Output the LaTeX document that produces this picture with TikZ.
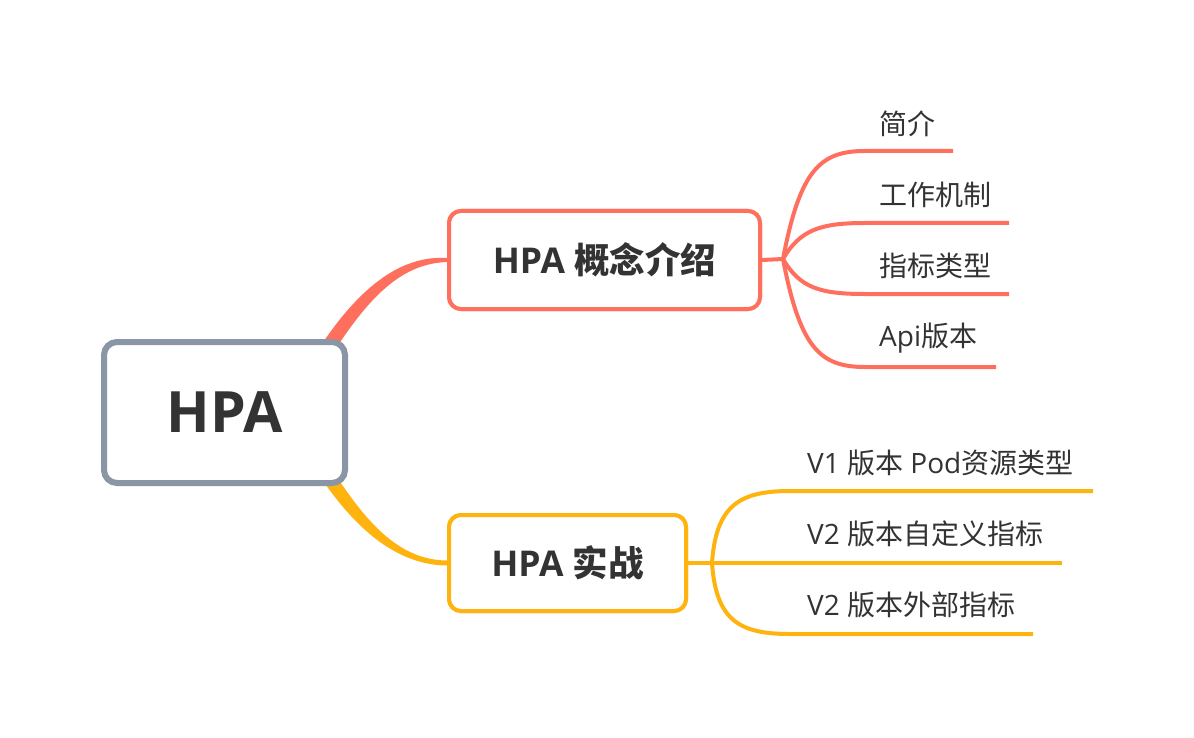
\documentclass[tikz,border=0pt]{standalone}
\usepackage{fontspec}
\setmainfont{Open Sans}
\newfontfamily\cjk{Noto Sans CJK SC}
\newcommand\zh[1]{{\cjk #1}}
\definecolor{coral}{RGB}{255,111,94}
\definecolor{amber}{RGB}{254,179,15}
\definecolor{slate}{RGB}{138,149,165}
\definecolor{ink}{RGB}{51,51,51}
\tikzset{
  rootbox/.style={draw=slate,line width=6pt,rounded corners=13pt,fill=white,minimum width=241pt,minimum height=141pt,text=ink,font=\fontsize{57}{60}\selectfont\bfseries,inner sep=0pt},
  branchbox/.style={line width=4pt,rounded corners=12pt,fill=white,text=ink,font=\fontsize{35.5}{40}\selectfont\bfseries,inner sep=0pt},
  leaftext/.style={anchor=west,text=ink,font=\fontsize{28}{32}\selectfont,inner sep=0pt},
  redline/.style={draw=coral,line width=4pt},
  yelline/.style={draw=amber,line width=4pt},
}
\begin{document}
\begin{tikzpicture}[x=1pt,y=-1pt]
\useasboundingbox (0,0) rectangle (1194,738);
\fill[white] (0,0) rectangle (1194,738);
% branch boxes (positions needed for connectors)
\node[branchbox,draw=coral,minimum width=311pt,minimum height=98pt] (b1) at (604.5,260) {HPA \zh{概念介绍}};
\node[branchbox,draw=amber,minimum width=237pt,minimum height=96pt] (b2) at (567.5,563) {HPA \zh{实战}};
% tapered main connectors
\fill[coral] (283,412) .. controls (332,314) and (385,254) .. ([yshift=2pt]b1.west) -- ([yshift=-2pt]b1.west) .. controls (385,264) and (348,326) .. (297,412) -- cycle;
\fill[amber] (283,412) .. controls (332,510) and (385,565) .. ([yshift=-2.5pt]b2.west) -- ([yshift=2.5pt]b2.west) .. controls (385,560) and (348,498) .. (297,412) -- cycle;
\node[rootbox] (root) at (224.5,412.5) {HPA};
% redraw branch boxes on top
\node[branchbox,draw=coral,minimum width=311pt,minimum height=98pt] at (b1) {HPA \zh{概念介绍}};
\node[branchbox,draw=amber,minimum width=237pt,minimum height=96pt] at (b2) {HPA \zh{实战}};
% top branch children
\coordinate (j1) at (783,259);
\coordinate (e1) at (953,151);
\coordinate (e2) at (1009,223);
\coordinate (e3) at (1009,294);
\coordinate (e4) at (996,367);
\draw[redline] (b1.east) -- (j1);
\draw[redline] (j1) .. controls (800,170) and (820,151) .. (865,151) -- (e1);
\draw[redline] (j1) .. controls (800,230) and (820,223) .. (865,223) -- (e2);
\draw[redline] (j1) .. controls (800,288) and (820,294) .. (865,294) -- (e3);
\draw[redline] (j1) .. controls (800,348) and (820,367) .. (865,367) -- (e4);
\node[leaftext] (t1) at (879,124) {\zh{简介}};
\node[leaftext] (t2) at (879,195) {\zh{工作机制}};
\node[leaftext] (t3) at (879,266) {\zh{指标类型}};
\node[leaftext] (t4) at (879,338) {Api\zh{版本}};
% bottom branch children
\coordinate (j2) at (712,563);
\coordinate (f1) at (1093,491);
\coordinate (f2) at (1062,563);
\coordinate (f3) at (1033,634);
\draw[yelline] (b2.east) -- (j2);
\draw[yelline] (j2) .. controls (716,505) and (740,491) .. (790,491) -- (f1);
\draw[yelline] (j2) -- (f2);
\draw[yelline] (j2) .. controls (716,621) and (740,634) .. (790,634) -- (f3);
\node[leaftext] (s1) at (807,463) {V1 \zh{版本} Pod\zh{资源类型}};
\node[leaftext] (s2) at (807,534) {V2 \zh{版本自定义指标}};
\node[leaftext] (s3) at (807,605) {V2 \zh{版本外部指标}};
\end{tikzpicture}
\end{document}
